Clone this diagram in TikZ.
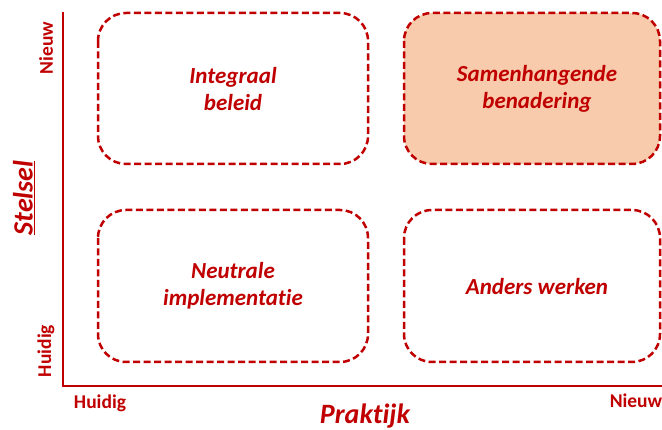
\documentclass[tikz,border=0pt]{standalone}
\usepackage{fontspec}
\setmainfont{Carlito}[Ligatures=NoCommon]
\definecolor{dred}{HTML}{C00000}
\definecolor{peach}{HTML}{F8CBAD}
\begin{document}
\begin{tikzpicture}[x=1pt,y=-1pt,
  quad/.style={draw=dred,line width=2.5pt,dash pattern=on 7pt off 3.5pt,rounded corners=28pt},
  qlabel/.style={text=dred,font=\fontsize{23}{27}\selectfont\bfseries\itshape,align=center},
  axlabel/.style={text=dred,font=\fontsize{19.5}{22}\selectfont\bfseries},
  axtitle/.style={text=dred,font=\fontsize{28}{32}\selectfont\bfseries\itshape}]
\useasboundingbox (0,0) rectangle (662,430);
\draw[quad] (98,13) rectangle (368,164);
\draw[quad,fill=peach] (404,13) rectangle (660,164);
\draw[quad] (98,210) rectangle (368,362);
\draw[quad] (404,210) rectangle (660,362);
\node[qlabel] (a) at (233,89) {Integraal\\beleid};
\node[qlabel] (b) at (537,89) {Samenhangende\\benadering};
\node[qlabel] (c) at (233,286) {Neutrale\\implementatie};
\node[qlabel] (d) at (537,287) {Anders werken};
\coordinate (top) at (63,12);
\coordinate (origin) at (63,386);
\coordinate (right) at (664,386);
\draw[dred,line width=2pt] (top) -- (origin) -- (right);
\node[axlabel,rotate=90] (yn) at (46,48) {Nieuw};
\node[axlabel,rotate=90] (yh) at (46,351) {Huidig};
\node[axlabel] (xh) at (100,403) {Huidig};
\node[axlabel] (xn) at (636,401) {Nieuw};
\node[axtitle] (px) at (365,416) {Praktijk};
\node[axtitle,rotate=90] (st) at (24,198) {\underline{Stelsel}};
\end{tikzpicture}
\end{document}
